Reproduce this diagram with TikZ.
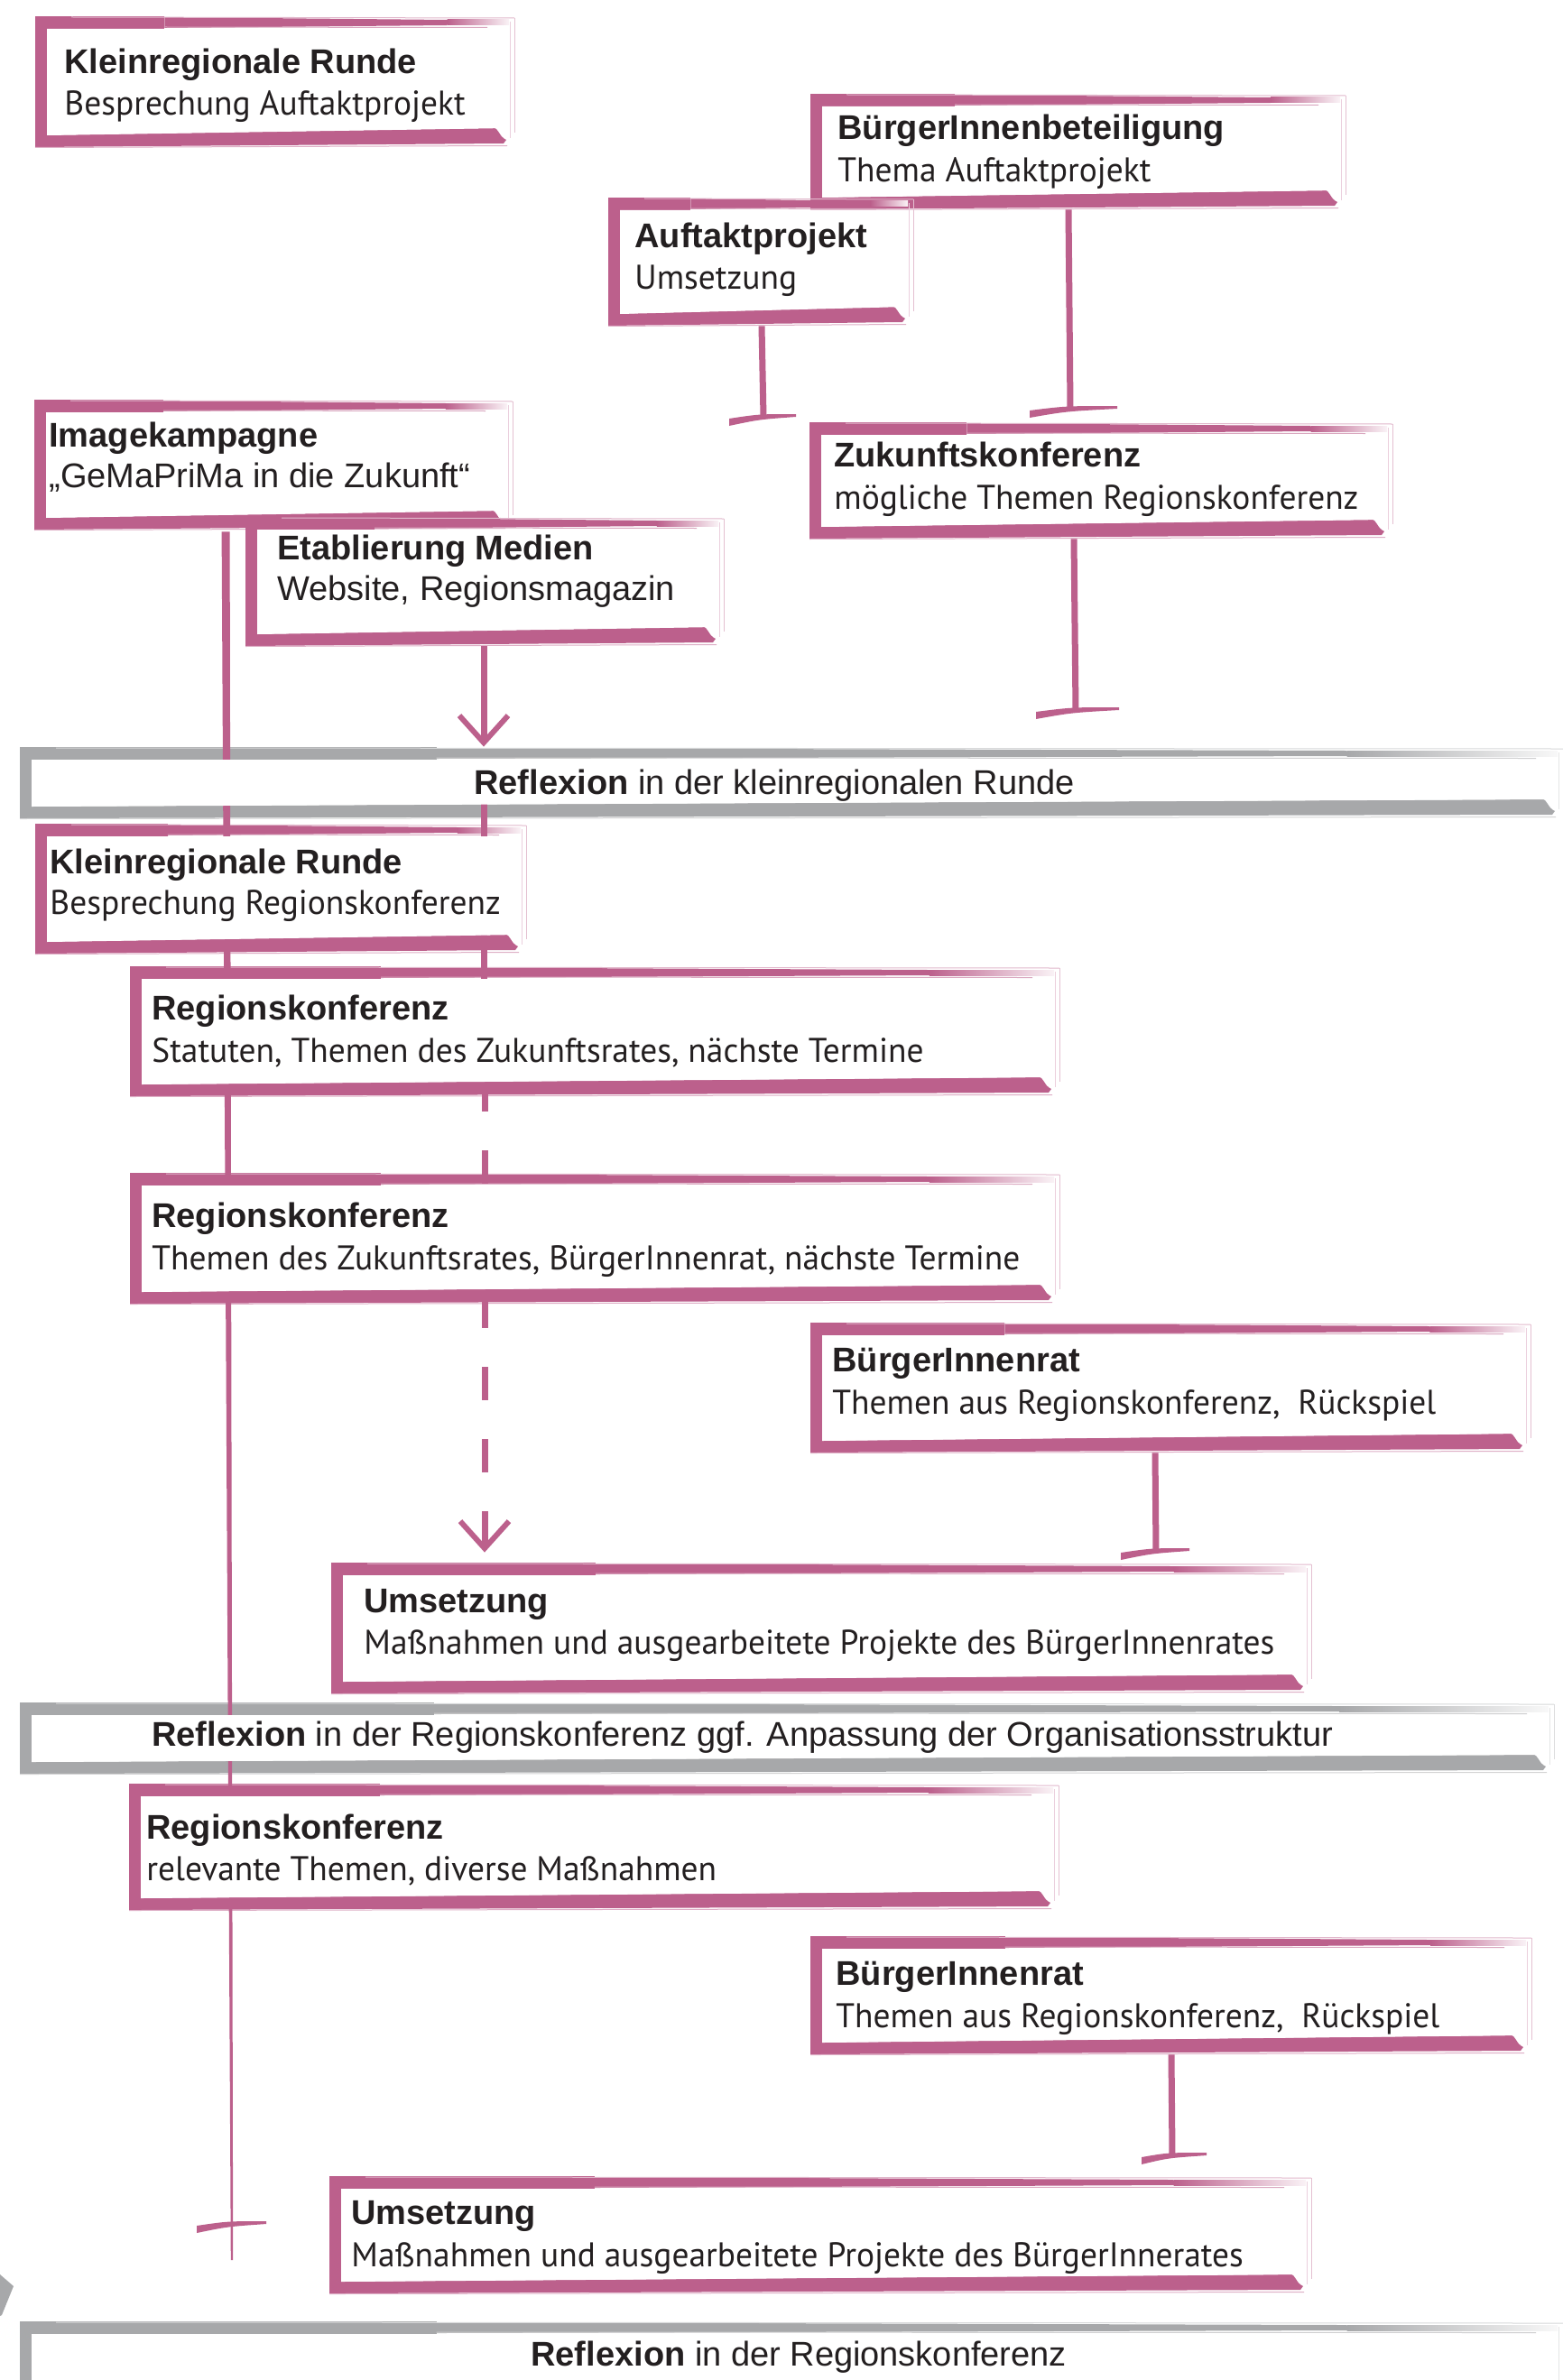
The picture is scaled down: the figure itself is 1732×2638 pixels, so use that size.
\documentclass[tikz,border=0pt]{standalone}
\usepackage{fontspec}
\setmainfont{Liberation Sans}
\newfontfamily\myr[FakeStretch=0.985]{PT Sans}
\usetikzlibrary{arrows.meta,calc}
\definecolor{pk}{RGB}{188,96,140}
\definecolor{gy}{RGB}{167,168,170}
\definecolor{tx}{RGB}{35,31,32}
\pgfdeclarelayer{lbg}\pgfdeclarelayer{lfg}\pgfdeclarelayer{ltx}
\pgfsetlayers{lbg,main,lfg,ltx}
\newcommand\fs{\fontsize{19}{23}\selectfont}
\tikzset{
  ttl/.style={anchor=base west,inner sep=0pt,text=tx,font=\bfseries\fs},
  stl/.style={anchor=base west,inner sep=0pt,text=tx,font=\myr\fs},
  atl/.style={anchor=base west,inner sep=0pt,text=tx,font=\fs},
  conn/.style={draw=pk,line width=3.5pt},
  tip/.style={-{Straight Barb[length=15pt,width=27pt,line width=3pt]}},
}
% brush box: name x1 y1 x2 y2 colour
\newcommand\bx[6]{%
\begin{pgfonlayer}{lbg}
\pgfmathsetmacro\xa{#2+0.27*(#4-#2)}
\pgfmathsetmacro\xb{#4-0.14*(#4-#2)}
\fill[#6] (#2,#3) rectangle (\xa,{#3+14});
\fill[#6] (\xa,{#3+1}) -- (\xb,{#3+4}) -- (\xb,{#3+10}) -- (\xa,{#3+13}) -- cycle;
\shade[left color=#6, right color=#6!8] (\xb,{#3+4}) rectangle ({#4-6},{#3+10});
\draw[#6!45, line width=0.5pt] ({#2+40},{#3+1}) -- (#4,{#3+2});
\draw[#6!55, line width=0.5pt] (\xa,{#3+12}) -- ({#4-30},{#3+12.5});
\draw[#6!40, line width=0.5pt] (#4,{#3+2}) -- (#4,{#5-16});
\draw[#6!30, line width=0.5pt] ({#4-5},{#3+6}) -- ({#4-5},{#5-10});
\fill[#6] (#2,#3) rectangle ({#2+13},#5);
\fill[#6] (#2,#5) -- (#2,{#5-13}) -- ({#4-24},{#5-21}) .. controls ({#4-17},{#5-22}) and ({#4-18},{#5-12}) .. ({#4-9},{#5-8}) -- ({#4-12},{#5-4}) -- cycle;
\draw[#6!50, line width=0.5pt] (#2,{#5+0.5}) -- ({#4-8},{#5-1.5});
\end{pgfonlayer}
\begin{pgfonlayer}{lfg}
\fill[white] ({#2+13},{#3+14}) -- ({#4-8},{#3+14}) -- ({#4-8},{#5-21}) -- ({#2+13},{#5-13}) -- cycle;
\end{pgfonlayer}
\node[inner sep=0pt, minimum width={(#4-#2)*0.5pt}, minimum height={(#5-#3)*0.5pt}] (#1) at ({(#2+#4)/2},{(#3+#5)/2}) {};
}
% bar end of a connector: coordinate, left offset, right offset
\newcommand\tbar[3]{\fill[pk] ([shift={(#2,2)}]#1) .. controls ([shift={(-5,-3)}]#1) .. ([shift={(#3,-3)}]#1) -- ([shift={(#3,0)}]#1) .. controls ([shift={(-5,3)}]#1) .. ([shift={(#2,10)}]#1) -- cycle;}
\begin{document}
\begin{tikzpicture}[x=0.5pt,y=-0.5pt]
\useasboundingbox (0,0) rectangle (1732,2638);
\begin{pgfonlayer}{lbg}
\fill[white] (0,0) rectangle (1732,2638);
\end{pgfonlayer}
% boxes
\bx{kr1}{39}{18}{570}{163}{pk}
\bx{bb}{898}{104}{1491}{232}{pk}
\bx{ap}{674}{219}{1012}{361}{pk}
\bx{zk}{897}{468}{1543}{597}{pk}
\bx{ik}{38}{443}{568}{587}{pk}
\bx{em}{272}{573}{802}{716}{pk}
\bx{rf1}{22}{828}{1732}{907}{gy}
\bx{kr2}{39}{913}{583}{1057}{pk}
\bx{rk1}{144}{1071}{1174}{1215}{pk}
\bx{rk2}{144}{1300}{1174}{1445}{pk}
\bx{br1}{898}{1466}{1696}{1610}{pk}
\bx{us1}{367}{1732}{1453}{1877}{pk}
\bx{rf2}{22}{1887}{1722}{1966}{gy}
\bx{rk3}{143}{1977}{1173}{2117}{pk}
\bx{br2}{898}{2146}{1697}{2277}{pk}
\bx{us2}{365}{2412}{1453}{2542}{pk}
\bx{rf3}{22}{2573}{1732}{2662}{gy}
% grey fragment
\fill[gy] (0,2521) -- (15,2534) -- (2,2566) -- (0,2567) -- cycle;
% texts
\begin{pgfonlayer}{ltx}
\node[ttl] (kr1t) at (71,82) {Kleinregionale Runde};
\node[stl] (kr1s) at (71,128) {Besprechung Auftaktprojekt};
\node[ttl] (bbt) at (928,155) {BürgerInnenbeteiligung};
\node[stl] (bbs) at (928,202) {Thema Auftaktprojekt};
\node[ttl] (apt) at (703,275) {Auftaktprojekt};
\node[stl] (aps) at (703,320) {Umsetzung};
\node[ttl] (zkt) at (924,517) {Zukunftskonferenz};
\node[stl] (zks) at (924,564) {mögliche Themen Regionskonferenz};
\node[ttl] (ikt) at (54,495) {Imagekampagne};
\node[atl] (iks) at (54,540) {„GeMaPriMa in die Zukunft“};
\node[ttl] (emt) at (307,620) {Etablierung Medien};
\node[atl] (ems) at (307,665) {Website, Regionsmagazin};
\node[atl] (rf1t) at (525,880) {\textbf{Reflexion} in der kleinregionalen Runde};
\node[ttl] (kr2t) at (55,968) {Kleinregionale Runde};
\node[stl] (kr2s) at (55,1013) {Besprechung Regionskonferenz};
\node[ttl] (rk1t) at (168,1130) {Regionskonferenz};
\node[stl] (rk1s) at (168,1177) {Statuten, Themen des Zukunftsrates, nächste Termine};
\node[ttl] (rk2t) at (168,1360) {Regionskonferenz};
\node[stl] (rk2s) at (168,1407) {Themen des Zukunftsrates, BürgerInnenrat, nächste Termine};
\node[ttl] (br1t) at (922,1520) {BürgerInnenrat};
\node[stl] (br1s) at (922,1567) {Themen aus Regionskonferenz,\ \ Rückspiel};
\node[ttl] (us1t) at (403,1787) {Umsetzung};
\node[stl] (us1s) at (403,1833) {Maßnahmen und ausgearbeitete Projekte des BürgerInnenrates};
\node[atl] (rf2t) at (168,1935) {\textbf{Reflexion} in der Regionskonferenz ggf. Anpassung der Organisationsstruktur};
\node[ttl] (rk3t) at (162,2038) {Regionskonferenz};
\node[stl] (rk3s) at (162,2084) {relevante Themen, diverse Maßnahmen};
\node[ttl] (br2t) at (926,2200) {BürgerInnenrat};
\node[stl] (br2s) at (926,2247) {Themen aus Regionskonferenz,\ \ Rückspiel};
\node[ttl] (us2t) at (389,2465) {Umsetzung};
\node[stl] (us2s) at (389,2512) {Maßnahmen und ausgearbeitete Projekte des BürgerInnerates};
\node[atl] (rf3t) at (588,2622) {\textbf{Reflexion} in der Regionskonferenz};
\end{pgfonlayer}
% connectors
\coordinate (b1) at (846,462);
\coordinate (b2) at (1186,453);
\coordinate (b3) at (1192,787);
\coordinate (b7) at (1281,1719);
\coordinate (b8) at (1299,2389);
\coordinate (b9) at (257,2465);
\coordinate (lend) at (257,2505);
\draw[conn] (844,0 |- ap.south) -- (b1);
\draw[conn] (1184,0 |- bb.south) -- (b2);
\draw[conn] (1190,0 |- zk.south) -- (b3);
\draw[conn] (1280,0 |- br1.south) -- (b7);
\draw[conn] (1298,0 |- br2.south) -- (b8);
\tbar{b1}{-38}{36}
\tbar{b2}{-45}{52}
\tbar{b3}{-44}{48}
\tbar{b7}{-39}{37}
\tbar{b8}{-34}{38}
\tbar{b9}{-39}{38}
\fill[pk] ($(ik.south west)+(208,2)$) -- ($(ik.south west)+(217,2)$) -- ([xshift=0.6pt]lend) -- ([xshift=-0.6pt]lend) -- cycle;
\draw[conn,tip] (536,0 |- em.south) -- (536,0 |- rf1.north);
\draw[conn] (536,0 |- rf1.center) -- (536,0 |- rk1.center);
\draw[conn,tip,dash pattern=on 18.5pt off 21.5pt] ($(537,0 |- rk1.south)+(0,-20)$) -- ($(537,0 |- us1.north)+(0,-11)$);
\end{tikzpicture}
\end{document}
